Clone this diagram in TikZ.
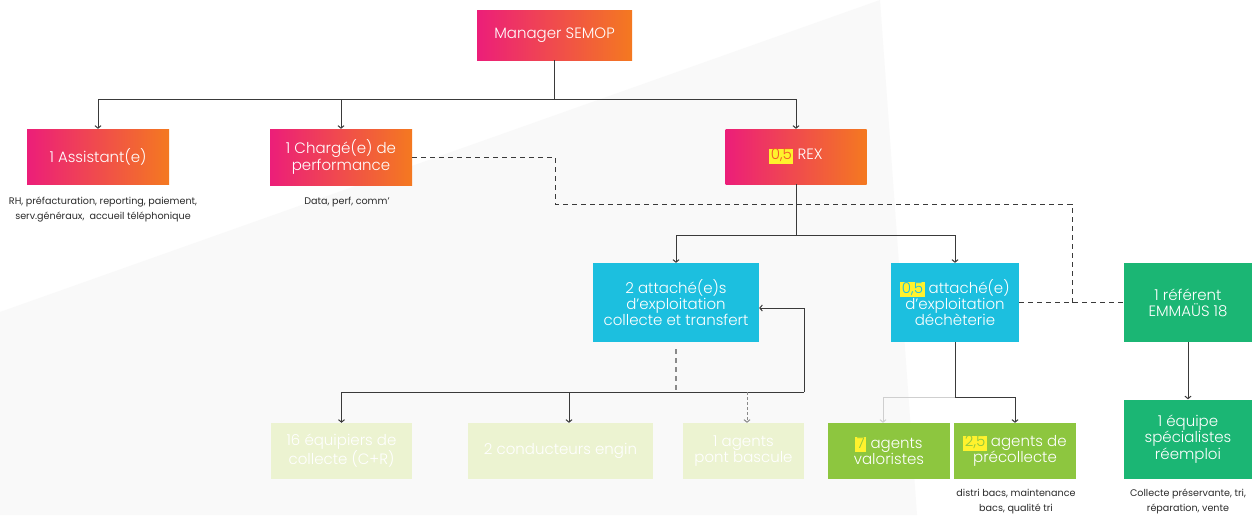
\documentclass[tikz,border=0pt]{standalone}
\usepackage{fontspec}
\setmainfont{Poppins}
\newfontfamily\boxfont{Poppins Light}
\usetikzlibrary{arrows.meta}
\definecolor{pinkc}{HTML}{EC1E79}
\definecolor{redc}{HTML}{EF4123}
\definecolor{orangec}{HTML}{F47920}
\definecolor{hlorange}{HTML}{F15A29}
\definecolor{cyanc}{HTML}{1CBFDF}
\definecolor{emeraldc}{HTML}{1BB674}
\definecolor{limec}{HTML}{8DC63F}
\definecolor{paleg}{HTML}{ECF3D1}
\definecolor{bggray}{HTML}{F9F9F9}
\definecolor{linec}{HTML}{3A3A3A}
\definecolor{graydash}{HTML}{8A8A8A}
\definecolor{lightline}{HTML}{CFCFCF}
\definecolor{hlyellow}{HTML}{FFF22D}
\definecolor{notec}{HTML}{2B2B2B}
\newcommand{\hlt}[2]{{\setlength{\fboxsep}{0pt}\colorbox{hlyellow}{\hspace{1.5pt}\rule[-4pt]{0pt}{14pt}\textcolor{#1}{#2}\hspace{1.5pt}}}}
\tikzset{
  box/.style={rectangle, inner sep=0pt, align=center, text=white, font=\boxfont\fontsize{15}{16.2}\selectfont},
  gradbox/.style={box, left color=pinkc, middle color=redc, right color=orangec},
  cyanbox/.style={box, fill=cyanc},
  emeraldbox/.style={box, fill=emeraldc},
  limebox/.style={box, fill=limec},
  palebox/.style={box, fill=paleg},
  note/.style={align=center, text=notec, inner sep=0pt, font=\fontsize{9.6}{14.5}\selectfont},
  conn/.style={draw=linec, line width=1pt},
  arr/.style={conn, -{Straight Barb[length=2.5pt,width=6pt]}},
  dashconn/.style={draw=linec, line width=1pt, dash pattern=on 5pt off 4pt},
  grayconn/.style={draw=graydash, line width=1.3pt, dash pattern=on 5pt off 4pt},
  grayarr/.style={draw=graydash, line width=1pt, dash pattern=on 3pt off 2pt, -{Straight Barb[length=2.5pt,width=6pt]}},
  lightarr/.style={draw=lightline, line width=1pt, -{Straight Barb[length=2.5pt,width=6pt]}}
}
\begin{document}
\begin{tikzpicture}[x=1pt,y=-1pt]
\useasboundingbox (0,0) rectangle (1252,515);
\fill[white] (0,0) rectangle (1252,515);
\fill[bggray] (0,312) -- (880,0) -- (917,515) -- (0,515) -- cycle;

% nodes
\node[gradbox, minimum width=155pt, minimum height=50pt] (mgr) at (554.5,35) {Manager SEMOP};
\node[gradbox, minimum width=142pt, minimum height=55pt] (asst) at (98,156.5) {1 Assistant(e)};
\node[gradbox, minimum width=142pt, minimum height=56pt] (charge) at (341,157) {1 Chargé(e) de\\performance};
\node[gradbox, minimum width=141pt, minimum height=55pt] (rex) at (796,156.5) {\hlt{hlorange}{0,5} REX};
\node[cyanbox, minimum width=166pt, minimum height=79pt] (att1) at (676,302.5) {2 attaché(e)s\\d’exploitation\\collecte et transfert};
\node[cyanbox, minimum width=128pt, minimum height=79pt] (att2) at (955,302.5) {\hlt{cyanc}{0,5} attaché(e)\\d’exploitation\\déchèterie};
\node[emeraldbox, minimum width=128pt, minimum height=79pt] (ref) at (1188,302.5) {1 référent\\EMMAÜS 18};
\node[emeraldbox, minimum width=128pt, minimum height=79pt] (eqp) at (1188,439) {1 équipe\\spécialistes\\réemploi};
\node[palebox, minimum width=141pt, minimum height=56pt] (eq16) at (341.5,451) {16 équipiers de\\collecte (C+R)};
\node[palebox, minimum width=185pt, minimum height=56pt] (cond) at (560.5,451) {2 conducteurs engin};
\node[palebox, minimum width=121pt, minimum height=56pt] (pont) at (743.5,451) {1 agents\\pont bascule};
\node[limebox, minimum width=122pt, minimum height=56pt] (val) at (889,451) {\hlt{limec}{7} agents\\valoristes};
\node[limebox, minimum width=122pt, minimum height=56pt] (pre) at (1015,451) {\hlt{limec}{2,5} agents de\\précollecte};

% notes
\node[note] (n1) at (103,209.5) {RH, préfacturation, reporting, paiement,\\serv.généraux,\ \ accueil téléphonique};
\node[note] (n2) at (347,202) {Data, perf, comm’};
\node[note] (n3) at (1016,501.5) {distri bacs, maintenance\\bacs, qualité tri};
\node[note] (n4) at (1188,501.5) {Collecte préservante, tri,\\réparation, vente};

% connectors
\coordinate (j1) at (554.5,99);
\draw[conn] (mgr.south) -- (j1);
\draw[arr] (j1) -| (asst.north);
\draw[arr] (j1) -| (charge.north);
\draw[arr] (j1) -| (rex.north);

\coordinate (d1) at (555,157);
\coordinate (d2) at (555,204);
\coordinate (d3) at (1072,204);
\coordinate (d4) at (1072,302.5);
\draw[dashconn] (charge.east) -- (d1) -- (d2) -- (d3) -- (d4);
\draw[dashconn] (att2.east) -- (ref.west);

\coordinate (j2) at (796,235);
\draw[conn] (rex.south) -- (j2);
\draw[arr] (j2) -| (att1.north);
\draw[arr] (j2) -| (att2.north);

\coordinate (j3) at (804,392);
\draw[arr] (j3) |- ([yshift=-5.5pt]att1.east);
\draw[arr] (j3) -| (eq16.north);
\coordinate (j4) at (569,392);
\draw[arr] (j4) -- (j4 |- cond.north);
\coordinate (a1b) at (676,349);
\draw[grayconn] (a1b) -- (a1b |- j3);
\coordinate (j5) at (747,392);
\draw[grayarr] (j5) -- (j5 |- pont.north);

\coordinate (j6) at (955,397);
\coordinate (j7) at (883,397);
\draw[conn] (att2.south) -- (j6);
\draw[lightarr] (j6) -- (j7) -- (j7 |- val.north);
\draw[arr] (j6) -| (pre.north);

\draw[arr] (ref.south) -- (eqp.north);
\end{tikzpicture}
\end{document}
